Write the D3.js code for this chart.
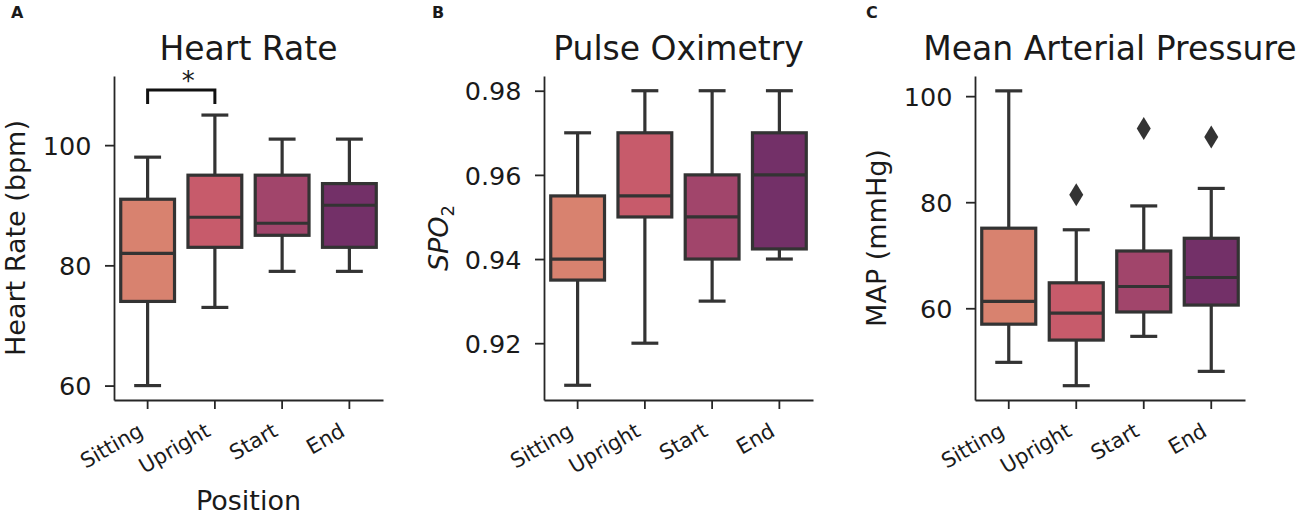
<!DOCTYPE html>
<html>
<head>
<meta charset="utf-8">
<script src="https://cdn.jsdelivr.net/npm/d3@7"></script>
<style>
  body { margin: 0; background: #fff; }
  text { font-family: 'DejaVu Sans', sans-serif; fill: #1a1a1a; }
</style>
</head>
<body>
<div id="chart"></div>
<script>
// categories and colours
const positions = ['Sitting', 'Upright', 'Start', 'End']
const boxColors = ['#d8826f', '#c75b6b', '#a1456b', '#733068']

// box stats per position: [whisker low, q1, median, q3, whisker high]
const hrStats = [
  [60, 74, 82, 91, 98],
  [73, 83, 88, 95, 105],
  [79, 85, 87, 95, 101],
  [79, 83, 90, 93.6, 101],
]
const spo2Stats = [
  [0.91, 0.935, 0.94, 0.955, 0.97],
  [0.92, 0.95, 0.955, 0.97, 0.98],
  [0.93, 0.94, 0.95, 0.96, 0.98],
  [0.94, 0.9424, 0.96, 0.97, 0.98],
]
const mapStats = [
  [49.8, 57, 61.3, 75.1, 101],
  [45.4, 54, 59.1, 64.8, 74.8],
  [54.7, 59.3, 64.1, 70.8, 79.3],
  [48.1, 60.6, 65.8, 73.2, 82.6],
]
const mapOutliers = [[], [81.4], [93.9], [92.3]]

// y ticks
const hrTicks = [60, 80, 100]
const spo2Ticks = [0.92, 0.94, 0.96, 0.98]
const mapTicks = [60, 80, 100]

const W = 1300
const H = 515
const TOP = 76
const BOTTOM = 400
const EDGE = '#333333'

const svg = d3.select('#chart').append('svg').attr('width', W).attr('height', H)

function boxPanel(opt) {
  const g = svg.append('g')

  const x = d3.scaleBand().domain(positions).range([opt.left, opt.right]).padding(0)
  const y = d3.scaleLinear().domain(opt.domain).range([BOTTOM, TOP])
  const bw = x.bandwidth() * 0.8
  const cx = d => x(d) + x.bandwidth() / 2

  // boxes
  const boxes = g.selectAll('g.box')
    .data(opt.stats.map((s, i) => ({ pos: positions[i], s: s, out: opt.outliers ? opt.outliers[i] : [] })))
    .join('g')
    .attr('class', 'box')

  // whiskers
  boxes.append('line')
    .attr('x1', d => cx(d.pos)).attr('x2', d => cx(d.pos))
    .attr('y1', d => y(d.s[0])).attr('y2', d => y(d.s[1]))
    .attr('stroke', EDGE).attr('stroke-width', 3.2)
  boxes.append('line')
    .attr('x1', d => cx(d.pos)).attr('x2', d => cx(d.pos))
    .attr('y1', d => y(d.s[3])).attr('y2', d => y(d.s[4]))
    .attr('stroke', EDGE).attr('stroke-width', 3.2)
  // caps
  boxes.selectAll('line.cap')
    .data(d => [d.s[0], d.s[4]].map(v => ({ pos: d.pos, v: v })))
    .join('line')
    .attr('class', 'cap')
    .attr('x1', d => cx(d.pos) - bw / 4).attr('x2', d => cx(d.pos) + bw / 4)
    .attr('y1', d => y(d.v)).attr('y2', d => y(d.v))
    .attr('stroke', EDGE).attr('stroke-width', 3.2)

  // box body
  boxes.append('rect')
    .attr('x', d => cx(d.pos) - bw / 2)
    .attr('width', bw)
    .attr('y', d => y(d.s[3]))
    .attr('height', d => y(d.s[1]) - y(d.s[3]))
    .attr('fill', (d, i) => boxColors[i])
    .attr('stroke', EDGE).attr('stroke-width', 3.2)

  // median
  boxes.append('line')
    .attr('x1', d => cx(d.pos) - bw / 2).attr('x2', d => cx(d.pos) + bw / 2)
    .attr('y1', d => y(d.s[2])).attr('y2', d => y(d.s[2]))
    .attr('stroke', EDGE).attr('stroke-width', 3.2)

  // outliers (thin diamonds)
  boxes.selectAll('path.flier')
    .data(d => d.out.map(v => ({ pos: d.pos, v: v })))
    .join('path')
    .attr('class', 'flier')
    .attr('d', 'M0,-11.5L7,0L0,11.5L-7,0Z')
    .attr('transform', d => `translate(${cx(d.pos)},${y(d.v)})`)
    .attr('fill', EDGE)

  // y axis
  const yAxis = g.append('g')
    .attr('transform', `translate(${opt.left},0)`)
    .call(d3.axisLeft(y).tickValues(opt.ticks).tickFormat(opt.fmt).tickSize(9).tickSizeOuter(0).tickPadding(13.5))
  yAxis.select('.domain').attr('stroke', '#262626').attr('stroke-width', 1.8)
  yAxis.selectAll('.tick line').attr('stroke', '#262626').attr('stroke-width', 1.8)
  yAxis.selectAll('.tick text')
    .attr('dy', '0.36em')
    .style('font-size', '25.5px')
    .style('font-family', 'DejaVu Sans')
    .attr('fill', '#1a1a1a')

  // x axis
  const xAxis = g.append('g')
    .attr('transform', `translate(0,${BOTTOM})`)
    .call(d3.axisBottom(x).tickSize(9).tickSizeOuter(0))
  xAxis.select('.domain').attr('stroke', '#262626').attr('stroke-width', 1.8)
  xAxis.selectAll('.tick line').attr('stroke', '#262626').attr('stroke-width', 1.8)
  xAxis.selectAll('.tick text')
    .attr('x', 0).attr('y', 0).attr('dy', null)
    .attr('text-anchor', 'end')
    .attr('transform', 'translate(-3,35) rotate(-30)')
    .style('font-size', '21px')
    .style('font-family', 'DejaVu Sans')
    .attr('fill', '#1a1a1a')

  // title
  g.append('text')
    .attr('x', (opt.left + opt.right) / 2)
    .attr('y', 60)
    .attr('text-anchor', 'middle')
    .style('font-size', '33px')
    .text(opt.title)

  // y label
  const yl = g.append('text')
    .attr('transform', `translate(${opt.ylabelX},${(TOP + BOTTOM) / 2}) rotate(-90)`)
    .attr('text-anchor', 'middle')
    .style('font-size', '27px')
  if (opt.ylabelSub) {
    yl.append('tspan').style('font-style', 'italic').text(opt.ylabel)
    yl.append('tspan').attr('dy', 6).style('font-size', '18px').text(opt.ylabelSub)
  } else {
    yl.text(opt.ylabel)
  }

  // panel letter
  svg.append('text')
    .attr('x', opt.letterX)
    .attr('y', 18)
    .style('font-size', '16px')
    .style('font-weight', 'bold')
    .text(opt.letter)

  return { g, x, y, cx }
}

const pA = boxPanel({
  left: 114, right: 383, domain: [57.6, 111.5], stats: hrStats, ticks: hrTicks,
  fmt: d3.format('d'), title: 'Heart Rate', ylabel: 'Heart Rate (bpm)', ylabelX: 24.5,
  letter: 'A', letterX: 11,
})

boxPanel({
  left: 544, right: 813, domain: [0.9065, 0.9835], stats: spo2Stats, ticks: spo2Ticks,
  fmt: d3.format('.2f'), title: 'Pulse Oximetry', ylabel: 'SPO', ylabelSub: '2', ylabelX: 448,
  letter: 'B', letterX: 432,
})

boxPanel({
  left: 975, right: 1245, domain: [42.7, 103.8], stats: mapStats, outliers: mapOutliers, ticks: mapTicks,
  fmt: d3.format('d'), title: 'Mean Arterial Pressure', ylabel: 'MAP (mmHg)', ylabelX: 886,
  letter: 'C', letterX: 866,
})

// x label only on panel A
svg.append('text')
  .attr('x', (114 + 383) / 2)
  .attr('y', 510)
  .attr('text-anchor', 'middle')
  .style('font-size', '27px')
  .text('Position')

// significance bracket Sitting vs Upright
const bx1 = pA.cx('Sitting')
const bx2 = pA.cx('Upright')
svg.append('path')
  .attr('d', `M${bx1},104V90H${bx2}V104`)
  .attr('fill', 'none')
  .attr('stroke', '#111')
  .attr('stroke-width', 3)
svg.append('text')
  .attr('x', (bx1 + bx2) / 2 + 7)
  .attr('y', 90)
  .attr('text-anchor', 'middle')
  .style('font-size', '26px')
  .text('*')
</script>
</body>
</html>
